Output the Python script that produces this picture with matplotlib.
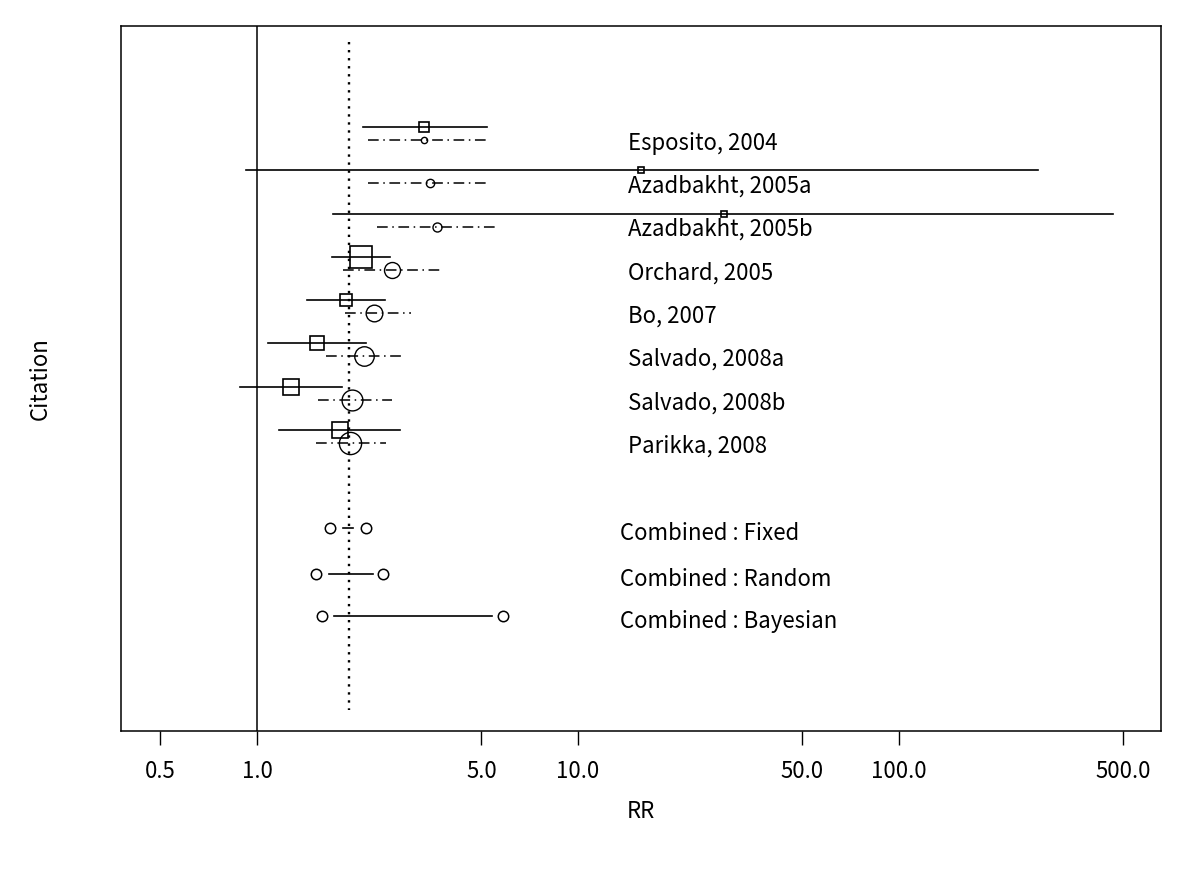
import matplotlib
matplotlib.use("Agg")
import matplotlib.pyplot as plt

plt.rcParams['font.family'] = ['Noto Sans CJK JP', 'DejaVu Sans']

# study names
studies = ["Esposito, 2004", "Azadbakht, 2005a", "Azadbakht, 2005b", "Orchard, 2005",
           "Bo, 2007", "Salvado, 2008a", "Salvado, 2008b", "Parikka, 2008"]

# solid line (square) estimates
sq_est = [3.31, 15.7, 28.5, 2.11, 1.89, 1.54, 1.28, 1.81]
sq_lo = [2.14, 0.924, 1.725, 1.71, 1.43, 1.08, 0.885, 1.17]
sq_hi = [5.21, 271.0, 464.0, 2.60, 2.50, 2.19, 1.84, 2.79]

# dash-dot line (circle) estimates
ci_est = [3.31, 3.46, 3.64, 2.63, 2.31, 2.15, 1.98, 1.95]
ci_lo = [2.22, 2.22, 2.36, 1.85, 1.88, 1.64, 1.55, 1.53]
ci_hi = [5.21, 5.32, 5.59, 3.74, 3.02, 2.83, 2.63, 2.52]

# combined results
comb_names = ["Combined : Fixed", "Combined : Random", "Combined : Bayesian"]
comb_lo = [1.69, 1.53, 1.59]
comb_hi = [2.19, 2.47, 5.84]
comb_line_lo = [1.85, 1.68, 1.74]
comb_line_hi = [1.99, 2.30, 5.39]

pooled = 1.935
xticks = [0.5, 1.0, 5.0, 10.0, 50.0, 100.0, 500.0]

# marker sizes (points)
sq_size = [7, 5, 5, 16.5, 8.5, 10.5, 11.5, 11]
ci_size = [4.5, 6, 6.5, 11.5, 12, 14, 15, 16]

fig = plt.figure(figsize=(12, 8.75), dpi=100)
ax = fig.add_axes([0.1008, 0.1646, 0.8667, 0.8057])
ax.set_xscale('log')
ax.set_xlim(0.377, 655)
ax.set_ylim(14.95, -1.333)

ax.axvline(1.0, color='black', lw=1.1)
ax.plot([pooled, pooled], [-0.963, 14.46], color='black', lw=1.7, linestyle=(0, (1, 2.4)))

dashdot = (0, (7, 3, 1, 3))
for i in range(len(studies)):
    y = i + 1
    ax.plot([sq_lo[i], sq_hi[i]], [y, y], color='black', lw=1.2)
    ax.plot(sq_est[i], y, marker='s', ms=sq_size[i], mfc='none', mec='black', mew=1.2)
    y2 = y + 0.3
    ax.plot([ci_lo[i], ci_hi[i]], [y2, y2], color='black', lw=1.1, linestyle=dashdot)
    ax.plot(ci_est[i], y2, marker='o', ms=ci_size[i], mfc='none', mec='black', mew=1.0,
            linestyle='none')
    ax.text(0.4875, (y + 0.37 - 14.95) / (-1.333 - 14.95), studies[i],
            transform=ax.transAxes, fontsize=16, va='center', ha='left')

comb_y = [10.26, 11.32, 12.29]
for i in range(len(comb_names)):
    y = comb_y[i]
    ax.plot([comb_line_lo[i], comb_line_hi[i]], [y, y], color='black', lw=1.2)
    ax.plot([comb_lo[i], comb_hi[i]], [y, y], marker='o', ms=7.5, mfc='none', mec='black',
            mew=1.1, linestyle='none')
    ax.text(0.48, (y + 0.12 - 14.95) / (-1.333 - 14.95), comb_names[i],
            transform=ax.transAxes, fontsize=16, va='center', ha='left')

ax.set_xticks(xticks)
ax.set_xticklabels([f"{t:.1f}" for t in xticks])
ax.minorticks_off()
ax.set_yticks([])
ax.tick_params(axis='x', length=10, width=1, pad=11, labelsize=16)
for s in ax.spines.values():
    s.set_linewidth(1.1)

ax.set_xlabel("RR", fontsize=16, labelpad=12)
ax.set_ylabel("Citation", fontsize=16, labelpad=50)

fig.savefig("out.png", dpi=100)
